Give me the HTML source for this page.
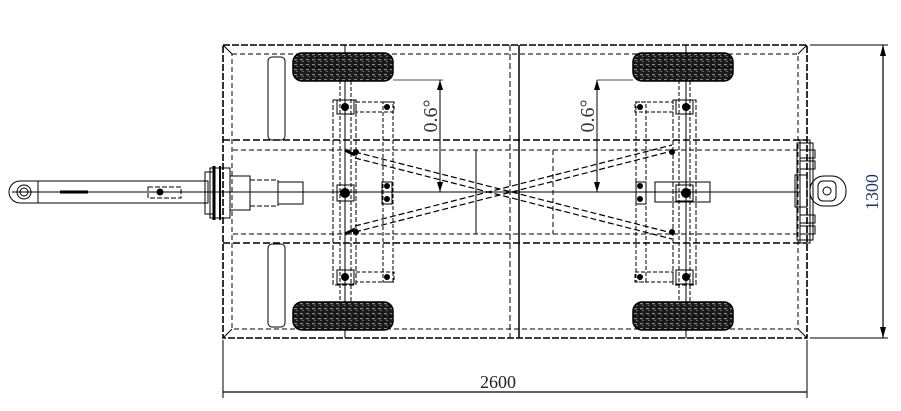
<!DOCTYPE html>
<html><head><meta charset="utf-8"><style>
html,body{margin:0;padding:0;background:#fff;width:901px;height:411px;overflow:hidden}
svg{display:block}
text{font-family:"Liberation Serif",serif}
</style></head><body>
<svg width="901" height="411" viewBox="0 0 901 411" xmlns="http://www.w3.org/2000/svg">
<defs>
<pattern id="tread" width="6" height="5" patternUnits="userSpaceOnUse">
<rect width="6" height="5" fill="#1a1a1a"/>
<rect x="1" y="1" width="3" height="1.2" fill="#888"/>
<rect x="3" y="3" width="2" height="1" fill="#666"/>
</pattern>
<g id="wheel">
<rect x="0" y="0" width="100" height="28" rx="9" fill="url(#tread)" stroke="#000" stroke-width="1.5"/>
<line x1="0" y1="14" x2="100" y2="14" stroke="#000" stroke-width="1" stroke-dasharray="4 2"/>
</g>
</defs>
<g fill="none" stroke="#000" stroke-width="1">
<rect x="223" y="45" width="584" height="293" stroke-width="1.6" stroke-dasharray="7 2"/>
<rect x="232" y="54" width="566" height="275" stroke-dasharray="5 3"/>
<line x1="223" y1="45" x2="232" y2="54"/><line x1="807" y1="45" x2="798" y2="54"/>
<line x1="223" y1="338" x2="232" y2="329"/><line x1="807" y1="338" x2="798" y2="329"/>
<line x1="223" y1="140" x2="807" y2="140" stroke-width="1.5" stroke-dasharray="7 3"/>
<line x1="223" y1="243" x2="807" y2="243" stroke-width="1.5" stroke-dasharray="7 3"/>
<line x1="233" y1="150" x2="798" y2="150" stroke-dasharray="5 3"/>
<line x1="233" y1="234" x2="798" y2="234" stroke-dasharray="5 3"/>
<line x1="12" y1="192" x2="800" y2="192"/>
<line x1="510" y1="45" x2="510" y2="338" stroke-dasharray="6 3"/>
<line x1="519" y1="45" x2="519" y2="338" stroke-width="1.5"/>
<line x1="476" y1="150" x2="476" y2="234"/>
<line x1="553" y1="150" x2="553" y2="234" stroke-dasharray="5 3"/>
<line x1="345" y1="45" x2="345" y2="338"/>
<line x1="686" y1="45" x2="686" y2="338"/>
<rect x="268" y="57" width="17" height="83" rx="4"/>
<rect x="268" y="244" width="17" height="83" rx="4"/>
<rect x="333" y="100" width="23" height="185" stroke-dasharray="5 2"/>
<rect x="340" y="80" width="11" height="225" stroke-dasharray="4 2"/>
<rect x="356" y="102" width="38" height="10" stroke-dasharray="4 2"/>
<rect x="356" y="272" width="38" height="10" stroke-dasharray="4 2"/>
<rect x="383" y="102" width="10" height="180" stroke-dasharray="4 2"/>
<rect x="337" y="100" width="17" height="14"/>
<rect x="337" y="270" width="17" height="14"/>
<rect x="337" y="185" width="17" height="16"/>
<rect x="382" y="182" width="10" height="22"/>
<rect x="673" y="100" width="23" height="185" stroke-dasharray="5 2"/>
<rect x="679" y="80" width="11" height="225" stroke-dasharray="4 2"/>
<rect x="635" y="102" width="38" height="10" stroke-dasharray="4 2"/>
<rect x="635" y="272" width="38" height="10" stroke-dasharray="4 2"/>
<rect x="636" y="102" width="10" height="180" stroke-dasharray="4 2"/>
<rect x="676" y="100" width="17" height="14"/>
<rect x="676" y="270" width="17" height="14"/>
<rect x="676" y="185" width="17" height="16"/>
<rect x="655" y="182" width="55" height="20"/>
<rect x="636" y="182" width="10" height="22"/>
<g stroke-dasharray="6 3" stroke-width="1.2">
<line x1="355" y1="152" x2="672" y2="233"/>
<line x1="355" y1="158" x2="672" y2="239"/>
<line x1="355" y1="232" x2="672" y2="151"/>
<line x1="355" y1="226" x2="672" y2="145"/>
</g>
<line x1="345" y1="150" x2="355" y2="155" stroke-width="3"/>
<line x1="345" y1="234" x2="355" y2="229" stroke-width="3"/>
<rect x="38" y="181" width="170" height="22"/>
<path d="M38 181 H20 a11 11 0 0 0 0 22 H38"/>
<circle cx="24" cy="192" r="7"/><circle cx="24" cy="192" r="4"/>
<line x1="60" y1="191" x2="88" y2="191"/><line x1="60" y1="193" x2="88" y2="193"/>
<rect x="148" y="187" width="33" height="11" stroke-dasharray="5 2"/>
<circle cx="160" cy="192" r="3" fill="#000"/>
<rect x="210" y="168" width="20" height="50"/>
<rect x="205" y="172" width="8" height="42"/>
<line x1="214" y1="166" x2="214" y2="220" stroke-width="3"/>
<line x1="220" y1="166" x2="220" y2="220" stroke-width="2"/>
<rect x="230" y="176" width="20" height="34"/>
<rect x="250" y="180" width="28" height="26" stroke-dasharray="5 2"/>
<rect x="278" y="182" width="25" height="22"/>
<rect x="800" y="140" width="10" height="103"/>
<rect x="797" y="143" width="16" height="97"/>
<rect x="795" y="175" width="12" height="32"/>
<rect x="810" y="176" width="36" height="30" rx="14"/>
<rect x="818" y="181" width="18" height="20" rx="5"/>
<circle cx="827" cy="191" r="4"/>
<rect x="800" y="150" width="15" height="8"/><rect x="800" y="226" width="15" height="8"/>
<rect x="800" y="161" width="15" height="8"/><rect x="800" y="215" width="15" height="8"/>
<line x1="223" y1="340" x2="223" y2="398"/>
<line x1="807" y1="340" x2="807" y2="398"/>
<line x1="223" y1="392" x2="807" y2="392" stroke-width="1.2"/>
<line x1="810" y1="45" x2="888" y2="45"/>
<line x1="810" y1="338" x2="888" y2="338"/>
<line x1="883" y1="45" x2="883" y2="338" stroke-width="1.2"/>
<line x1="393" y1="80" x2="443" y2="80" stroke="#555"/>
<line x1="440" y1="80" x2="440" y2="192"/>
<line x1="597" y1="80" x2="633" y2="80" stroke="#555"/>
<line x1="597" y1="80" x2="597" y2="192"/>
</g>
<g fill="#000">
<polygon points="883,45 880,56 886,56"/><polygon points="883,338 880,327 886,327"/>
<polygon points="440,80 437,90 443,90"/><polygon points="440,192 437,182 443,182"/>
<polygon points="597,80 594,90 600,90"/><polygon points="597,192 594,182 600,182"/>
<circle cx="345" cy="107" r="4"/><circle cx="345" cy="277" r="4"/><circle cx="345" cy="193" r="5"/>
<circle cx="387" cy="107" r="3"/><circle cx="387" cy="277" r="3"/>
<circle cx="387" cy="186" r="3"/><circle cx="387" cy="199" r="3"/>
<circle cx="686" cy="107" r="4"/><circle cx="686" cy="277" r="4"/><circle cx="686" cy="193" r="5"/>
<circle cx="640" cy="107" r="3"/><circle cx="640" cy="277" r="3"/>
<circle cx="640" cy="186" r="3"/><circle cx="640" cy="199" r="3"/>
<circle cx="672" cy="152" r="3"/><circle cx="672" cy="232" r="3"/>
<circle cx="356" cy="152" r="3"/><circle cx="356" cy="232" r="3"/>
</g>
<use href="#wheel" x="293" y="53"/>
<use href="#wheel" x="293" y="302"/>
<use href="#wheel" x="633" y="53"/>
<use href="#wheel" x="633" y="302"/>
<text x="498" y="388" font-size="18" text-anchor="middle" fill="#222">2600</text>
<text transform="translate(878,192) rotate(-90)" font-size="18" text-anchor="middle" fill="#223366">1300</text>
<text transform="translate(437,116) rotate(-90)" font-size="20" text-anchor="middle" fill="#333">0.6°</text>
<text transform="translate(594,116) rotate(-90)" font-size="20" text-anchor="middle" fill="#333">0.6°</text>
</svg>
</body></html>
